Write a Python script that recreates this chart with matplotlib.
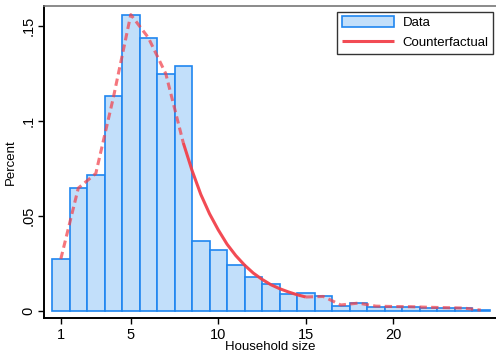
import matplotlib
matplotlib.use('Agg')
from matplotlib import pyplot as plt
import numpy as np

plt.rcParams['font.family'] = ['Liberation Sans', 'DejaVu Sans']

# share of households by size (1..25)
hh_size = np.arange(1, 26)
share = [0.0272, 0.0644, 0.0714, 0.1130, 0.1558, 0.1437, 0.1247, 0.1286,
         0.0367, 0.0319, 0.0240, 0.0175, 0.0140, 0.0086, 0.0093, 0.0075,
         0.0026, 0.0040, 0.0021, 0.0020, 0.0019, 0.0016, 0.0013, 0.0012,
         0.0005]

# counterfactual distribution, split into observed-like and smoothed parts
cf_low_x = [1, 2, 3, 4, 5, 6, 7, 8]
cf_low_y = [0.0272, 0.0645, 0.0722, 0.1120, 0.1558, 0.1437, 0.1247, 0.0883]
cf_mid_x = [8, 8.5, 9, 9.5, 10, 10.5, 11, 11.5, 12, 12.5, 13, 13.5, 14, 14.5, 15]
cf_mid_y = [0.0883, 0.0738, 0.0612, 0.0510, 0.0425, 0.0350, 0.0290, 0.0240,
            0.0198, 0.0165, 0.0137, 0.0116, 0.0099, 0.0084, 0.0072]
cf_high_x = [15, 16, 17, 18, 19, 20, 21, 22, 23, 24, 25]
cf_high_y = [0.0072, 0.0075, 0.0030, 0.0040, 0.0024, 0.0022, 0.0021, 0.0018,
             0.0016, 0.0014, 0.0003]

fig = plt.figure(figsize=(4.96, 3.53), dpi=100)
ax = fig.add_axes([0.088, 0.0983, 0.912, 0.884])

bars = ax.bar(hh_size, share, width=1.0, color='#c2dffa', edgecolor='#1f86f0',
              linewidth=1.2, label='Data', zorder=2)

red = '#f2414b'
ax.plot(cf_low_x, cf_low_y, color=red, lw=2.2, alpha=0.72,
        linestyle=(0, (2.4, 1.4)), zorder=3)
cf_line, = ax.plot(cf_mid_x, cf_mid_y, color=red, lw=2.2, alpha=0.95,
                   solid_capstyle='butt', label='Counterfactual', zorder=3)
ax.plot(cf_high_x, cf_high_y, color=red, lw=2.2, alpha=0.72,
        linestyle=(0, (2.4, 1.4)), zorder=3)

ax.set_xlim(0.02, 25.87)
ax.set_ylim(-0.004, 0.1602)

ax.set_xticks([1, 5, 10, 15, 20])
ax.set_xticklabels(['1', '5', '10', '15', '20'])
ax.set_yticks([0, 0.05, 0.1, 0.15])
ax.set_yticklabels(['0', '.05', '.1', '.15'], rotation=90, va='center')
ax.tick_params(axis='both', labelsize=10.5, length=4.5, width=1.0)
ax.tick_params(axis='y', pad=1.5)
ax.tick_params(axis='x', pad=2.5)

ax.set_xlabel('Household size', fontsize=9.5, labelpad=-1)
ax.set_ylabel('Percent', fontsize=9.5, labelpad=3)

for side in ['left', 'bottom']:
    ax.spines[side].set_linewidth(1.4)
    ax.spines[side].set_color('black')
ax.spines['top'].set_color('#777777')
ax.spines['top'].set_linewidth(1.2)
ax.spines['right'].set_visible(False)

leg = ax.legend([bars, cf_line], ['Data', 'Counterfactual'],
                loc='upper right', bbox_to_anchor=(0.9934, 0.9827),
                fontsize=9.5, frameon=True, fancybox=False, handlelength=4.0,
                handleheight=0.9, handletextpad=0.6, borderpad=0.35,
                labelspacing=0.5, borderaxespad=0)
leg.get_frame().set_edgecolor('black')
leg.get_frame().set_linewidth(1.0)

fig.savefig('out.png', dpi=100)
